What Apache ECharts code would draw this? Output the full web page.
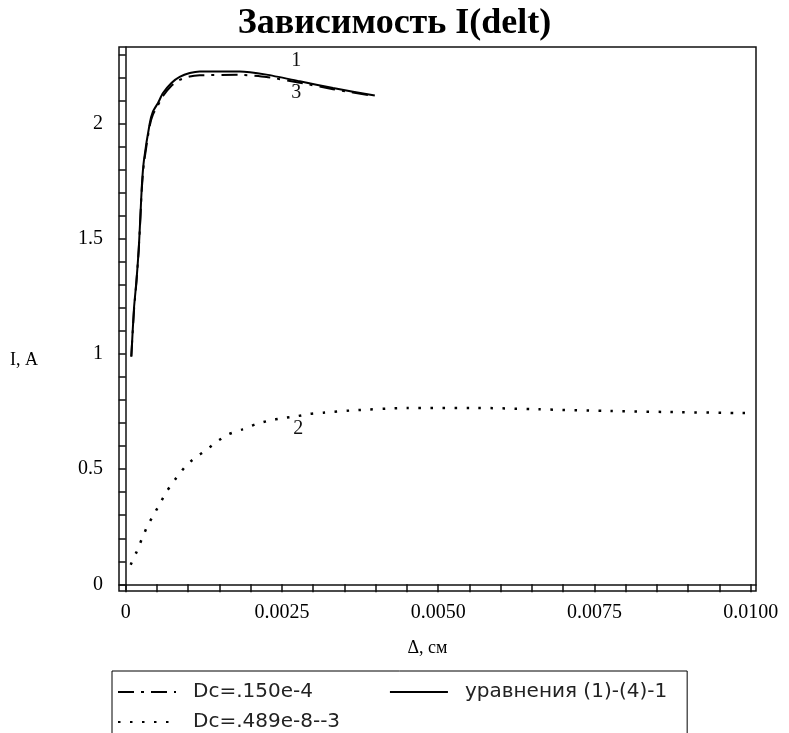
<!DOCTYPE html>
<html>
<head>
<meta charset="utf-8">
<script src="https://cdn.jsdelivr.net/npm/echarts@6/dist/echarts.min.js"></script>
<style>
html, body { margin: 0; padding: 0; background: #fff; }
#container { width: 789px; height: 733px; }
</style>
</head>
<body>
<div id="container"></div>
<script>
var dom = document.getElementById("container");
var myChart = echarts.init(dom);

// curve 1: уравнения (1)-(4)-1 (solid)
var solidX = [0.00009, 0.000133, 0.000171, 0.000208, 0.000235, 0.000261, 0.000293, 0.000384, 0.000437, 0.000517,
    0.000597, 0.000732, 0.000864, 0.001025, 0.001185, 0.001825, 0.002252, 0.002785, 0.003318, 0.003986];
var solidY = [0.988, 1.2, 1.314, 1.452, 1.597, 1.742, 1.843, 2.0, 2.053, 2.09,
    2.133, 2.177, 2.203, 2.22, 2.227, 2.227, 2.213, 2.184, 2.155, 2.122];

// curve 3: Dc=.150e-4 (dash-dot)
var dashDotX = [0.00009, 0.000133, 0.000171, 0.000208, 0.000235, 0.000261, 0.000293, 0.000384, 0.000437, 0.000517,
    0.000597, 0.000732, 0.000864, 0.001025, 0.001185, 0.001825, 0.002252, 0.002785, 0.003318, 0.003986];
var dashDotY = [0.99, 1.19, 1.31, 1.45, 1.59, 1.73, 1.83, 1.99, 2.04, 2.08,
    2.12, 2.165, 2.19, 2.205, 2.21, 2.212, 2.203, 2.178, 2.15, 2.12];

// curve 2: Dc=.489e-8--3 (dotted)
var dotX = [0.00008, 0.000176, 0.00026, 0.000351, 0.000457, 0.000562, 0.000668, 0.000808, 0.000949, 0.00111,
    0.00128, 0.00146, 0.00165, 0.00186, 0.00207, 0.00228, 0.00252, 0.00274, 0.00295, 0.00316,
    0.00362, 0.0045, 0.00562, 0.0066, 0.00766, 0.00871, 0.01];
var dotY = [0.085, 0.142, 0.198, 0.255, 0.306, 0.358, 0.408, 0.462, 0.51, 0.55,
    0.581, 0.62, 0.652, 0.672, 0.694, 0.71, 0.722, 0.73, 0.74, 0.745,
    0.755, 0.766, 0.766, 0.76, 0.753, 0.748, 0.743];

// curve number labels
var tagText = ['1', '3', '2'];
var tagX = [0.00273, 0.00273, 0.00276];
var tagY = [2.275, 2.133, 0.675];

// axis ticks
var xTickValues = [0, 0.0005, 0.001, 0.0015, 0.002, 0.0025, 0.003, 0.0035, 0.004, 0.0045, 0.005,
    0.0055, 0.006, 0.0065, 0.007, 0.0075, 0.008, 0.0085, 0.009, 0.0095, 0.01];
var xLabelValues = [0, 0.0025, 0.005, 0.0075, 0.01];
var xLabelText = ['0', '0.0025', '0.0050', '0.0075', '0.0100'];
var yTickValues = [0, 0.1, 0.2, 0.3, 0.4, 0.5, 0.6, 0.7, 0.8, 0.9, 1, 1.1, 1.2, 1.3, 1.4, 1.5,
    1.6, 1.7, 1.8, 1.9, 2, 2.1, 2.2, 2.3];
var yLabelValues = [0, 0.5, 1, 1.5, 2];
var yLabelText = ['0', '0.5', '1', '1.5', '2'];

function pairs(xs, ys) {
    var out = [];
    for (var i = 0; i < xs.length; i++) out.push([xs[i], ys[i]]);
    return out;
}

function lookup(values, texts, v) {
    for (var i = 0; i < values.length; i++) {
        if (Math.abs(values[i] - v) < 1e-9) return texts[i];
    }
    return '';
}

function tag(i) {
    return {
        coord: [tagX[i], tagY[i]],
        value: tagText[i],
        label: { formatter: tagText[i] }
    };
}

var serif = 'Liberation Serif';
var sans = 'DejaVu Sans';
var tagLabel = { show: true, color: '#111', fontFamily: serif, fontSize: 20 };
var legendText = { fontFamily: sans, fontSize: 20, color: '#222', padding: [0, 0, 0, 12] };

option = {
    backgroundColor: '#fff',
    animation: false,
    title: {
        text: 'Зависимость I(delt)',
        left: 'center',
        top: 1,
        textStyle: { fontFamily: serif, fontWeight: 'bold', fontSize: 36, color: '#000' }
    },
    graphic: [{
        type: 'text',
        left: 10,
        top: 351,
        style: { text: 'I, A', font: '18px "Liberation Serif"', fill: '#000' }
    }],
    legend: [{
        left: 112,
        top: 671,
        orient: 'horizontal',
        width: 580,
        padding: [11, 20, 60, 5],
        itemGap: 76,
        itemWidth: 58,
        itemHeight: 20,
        borderColor: '#000',
        borderWidth: 1,
        backgroundColor: '#fff',
        selectedMode: false,
        itemStyle: { opacity: 0 },
        data: ['Dc=.150e-4', 'уравнения (1)-(4)-1'],
        textStyle: legendText
    }, {
        left: 112,
        top: 712,
        z: 5,
        orient: 'horizontal',
        padding: [0, 0, 0, 5],
        itemWidth: 58,
        itemHeight: 20,
        selectedMode: false,
        itemStyle: { opacity: 0 },
        data: ['Dc=.489e-8--3'],
        textStyle: legendText
    }],
    grid: {
        left: 119,
        top: 47,
        right: 33,
        bottom: 142,
        show: true,
        borderColor: '#111',
        borderWidth: 1.5
    },
    xAxis: {
        type: 'value',
        min: -0.000107,
        max: 0.010085,
        name: 'Δ, см',
        nameLocation: 'middle',
        nameGap: 48,
        nameTextStyle: { fontFamily: serif, fontSize: 18, color: '#000', padding: [0, 20, 0, 0] },
        axisLine: { show: true, lineStyle: { color: '#111', width: 1.5 } },
        axisTick: { show: true, customValues: xTickValues, length: 8, lineStyle: { color: '#111', width: 1.5 } },
        axisLabel: {
            customValues: xLabelValues,
            margin: 12,
            fontFamily: serif,
            fontSize: 20,
            color: '#000',
            formatter: function (v) { return lookup(xLabelValues, xLabelText, v); }
        },
        splitLine: { show: false }
    },
    yAxis: {
        type: 'value',
        min: -0.029,
        max: 2.333,
        axisLine: { show: true, lineStyle: { color: '#111', width: 1.5 } },
        axisTick: { show: true, customValues: yTickValues, length: 7, lineStyle: { color: '#111', width: 1.5 } },
        axisLabel: {
            customValues: yLabelValues,
            margin: 16,
            fontFamily: serif,
            fontSize: 20,
            color: '#000',
            formatter: function (v) { return lookup(yLabelValues, yLabelText, v); }
        },
        splitLine: { show: false }
    },
    series: [{
        name: 'Dc=.150e-4',
        type: 'line',
        showSymbol: false,
        symbol: 'none',
        smooth: 0.2,
        data: pairs(dashDotX, dashDotY),
        lineStyle: { color: '#000', width: 2, type: [16, 7, 3, 7] },
        itemStyle: { color: '#000' },
        markPoint: {
            symbol: 'circle',
            symbolSize: 0,
            label: tagLabel,
            data: [tag(1)]
        }
    }, {
        name: 'уравнения (1)-(4)-1',
        type: 'line',
        showSymbol: false,
        symbol: 'none',
        smooth: 0.2,
        data: pairs(solidX, solidY),
        lineStyle: { color: '#000', width: 2 },
        itemStyle: { color: '#000' },
        markPoint: {
            symbol: 'circle',
            symbolSize: 0,
            label: tagLabel,
            data: [tag(0)]
        }
    }, {
        name: 'Dc=.489e-8--3',
        type: 'line',
        showSymbol: false,
        symbol: 'none',
        smooth: 0.2,
        data: pairs(dotX, dotY),
        lineStyle: { color: '#000', width: 2.5, type: [2.5, 9.5] },
        itemStyle: { color: '#000' },
        markPoint: {
            symbol: 'circle',
            symbolSize: 0,
            label: tagLabel,
            data: [tag(2)]
        }
    }]
};

if (option && typeof option === "object") {
    myChart.setOption(option, true);
}
</script>
</body>
</html>
